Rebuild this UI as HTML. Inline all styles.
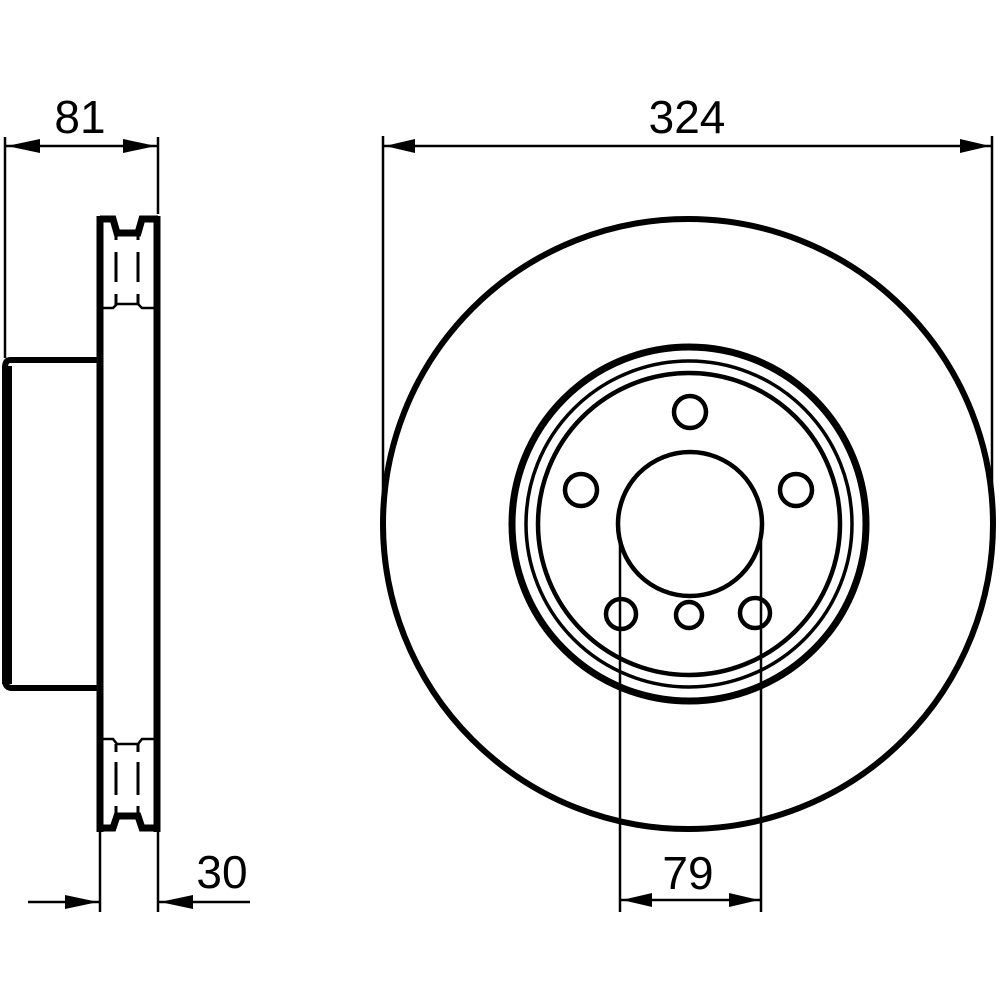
<!DOCTYPE html>
<html><head><meta charset="utf-8"><style>
html,body{margin:0;padding:0;background:#fff;width:1000px;height:1000px;overflow:hidden}
svg{display:block}
text{font-family:"Liberation Sans",sans-serif;fill:#000}
</style></head><body>
<svg width="1000" height="1000" viewBox="0 0 1000 1000" xmlns="http://www.w3.org/2000/svg">
<rect width="1000" height="1000" fill="#fff"/>
<g stroke="#000" fill="none">
<!-- side view: hat -->
<path d="M100 360 H10 Q5 360 5 368 V680 Q5 688 12 688 H100" stroke-width="6"/>
<line x1="7" y1="366" x2="7" y2="684" stroke-width="10"/>
<!-- disc -->
<path d="M100 219 H113 L117 233 H138 L142 219 H158" stroke-width="7"/>
<path d="M100 828 H113 L117 816 H138 L142 828 H158" stroke-width="7"/>
<line x1="100" y1="216" x2="100" y2="832" stroke-width="7"/>
<line x1="157" y1="216" x2="157" y2="832" stroke-width="7"/>
<path d="M100 308 H113 L117 304 H138 L142 308 H158" stroke-width="2.5"/>
<path d="M100 739 H113 L117 744 H138 L142 739 H158" stroke-width="2.5"/>
<g stroke-width="3">
<line x1="116" y1="233" x2="116" y2="240"/><line x1="138" y1="233" x2="138" y2="240"/>
<line x1="116" y1="252" x2="116" y2="282"/><line x1="138" y1="252" x2="138" y2="282"/>
<line x1="116" y1="294" x2="116" y2="305"/><line x1="138" y1="294" x2="138" y2="305"/>
<line x1="116" y1="744" x2="116" y2="752"/><line x1="138" y1="744" x2="138" y2="752"/>
<line x1="116" y1="762" x2="116" y2="795"/><line x1="138" y1="762" x2="138" y2="795"/>
<line x1="116" y1="806" x2="116" y2="816"/><line x1="138" y1="806" x2="138" y2="816"/>
</g>
<!-- 81 dimension -->
<g stroke-width="2.5">
<line x1="5" y1="137" x2="5" y2="358"/>
<line x1="158" y1="137" x2="158" y2="214"/>
<line x1="5" y1="146" x2="158" y2="146"/>
<line x1="100" y1="832" x2="100" y2="912"/>
<line x1="158" y1="832" x2="158" y2="912"/>
<line x1="28" y1="902" x2="100" y2="902"/>
<line x1="158" y1="902" x2="250" y2="902"/>
<!-- 324 -->
<line x1="383" y1="136" x2="383" y2="522"/>
<line x1="992" y1="136" x2="992" y2="522"/>
<line x1="383" y1="146" x2="992" y2="146"/>
<!-- 79 -->
<line x1="620" y1="538" x2="620" y2="912"/>
<line x1="761" y1="538" x2="761" y2="912"/>
<line x1="620" y1="900" x2="761" y2="900"/>
</g>
<!-- front view -->
<circle cx="688" cy="524" r="305" stroke-width="6"/>
<circle cx="689" cy="524" r="177" stroke-width="7"/>
<circle cx="689" cy="524" r="163" stroke-width="3.5"/>
<circle cx="689" cy="524" r="151" stroke-width="4.5"/>
<circle cx="690" cy="524" r="72" stroke-width="4.5"/>
<g stroke-width="4.5">
<circle cx="690" cy="412" r="16"/>
<circle cx="581" cy="490" r="16"/>
<circle cx="796" cy="490" r="16"/>
<circle cx="621" cy="614" r="15"/>
<circle cx="689" cy="615" r="13"/>
<circle cx="755" cy="613" r="15"/>
</g>
</g>
<!-- arrowheads -->
<g fill="#000">
<polygon points="7,146 40,139 40,153"/>
<polygon points="156,146 123,139 123,153"/>
<polygon points="98,902 65,895 65,909"/>
<polygon points="160,902 193,895 193,909"/>
<polygon points="385,146 415,139 415,153"/>
<polygon points="990,146 960,139 960,153"/>
<polygon points="622,900 652,893 652,907"/>
<polygon points="759,900 729,893 729,907"/>
</g>
<text x="80" y="133" font-size="46" text-anchor="middle">81</text>
<text x="222" y="888" font-size="46" text-anchor="middle">30</text>
<text x="687" y="133" font-size="46" text-anchor="middle">324</text>
<text x="688" y="889" font-size="46" text-anchor="middle">79</text>
</svg>
</body></html>
